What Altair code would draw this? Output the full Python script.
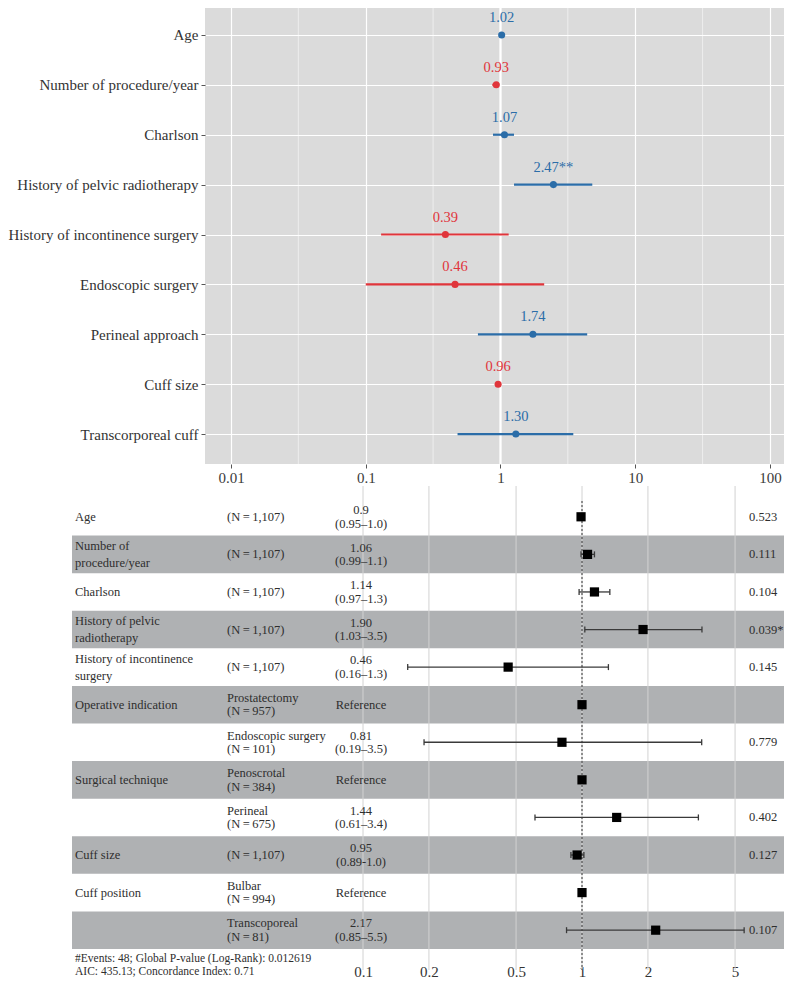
import altair as alt
import pandas as pd

FONT = "Liberation Serif"
RED = "#e0353b"
BLUE = "#2b6da8"
ROWGRAY = "#afb1b3"
PANELBG = "#dbdbdb"

# ---------------- top panel data ----------------
top_vars = ["Age", "Number of procedure/year", "Charlson",
            "History of pelvic radiotherapy", "History of incontinence surgery",
            "Endoscopic surgery", "Perineal approach", "Cuff size",
            "Transcorporeal cuff"]
top_hr = [1.02, 0.93, 1.07, 2.47, 0.39, 0.46, 1.74, 0.96, 1.30]
top_lo = [1.00, 0.87, 0.88, 1.26, 0.13, 0.10, 0.68, 0.92, 0.48]
top_hi = [1.04, 0.98, 1.26, 4.80, 1.15, 2.11, 4.40, 1.00, 3.47]
top_label = ["1.02", "0.93", "1.07", "2.47**", "0.39", "0.46", "1.74", "0.96", "1.30"]
top_major = [0.01, 0.1, 1, 10, 100]
top_minor = [0.0316, 0.316, 3.16, 31.6]

# ---------------- bottom panel data ----------------
bot_var = ["Age", "Number of\nprocedure/year", "Charlson",
           "History of pelvic\nradiotherapy", "History of incontinence\nsurgery",
           "Operative indication", "", "Surgical technique", "", "Cuff size",
           "Cuff position", ""]
bot_group = ["(N\u2009=\u20091,107)", "(N\u2009=\u20091,107)", "(N\u2009=\u20091,107)",
             "(N\u2009=\u20091,107)", "(N\u2009=\u20091,107)",
             "Prostatectomy\n(N\u2009=\u2009957)", "Endoscopic surgery\n(N\u2009=\u2009101)",
             "Penoscrotal\n(N\u2009=\u2009384)", "Perineal\n(N\u2009=\u2009675)",
             "(N\u2009=\u20091,107)", "Bulbar\n(N\u2009=\u2009994)",
             "Transcoporeal\n(N\u2009=\u200981)"]
bot_hrtext = ["0.9\n(0.95\u20131.0)", "1.06\n(0.99\u20131.1)", "1.14\n(0.97\u20131.3)",
              "1.90\n(1.03\u20133.5)", "0.46\n(0.16\u20131.3)", "Reference",
              "0.81\n(0.19\u20133.5)", "Reference", "1.44\n(0.61\u20133.4)",
              "0.95\n(0.89-1.0)", "Reference", "2.17\n(0.85\u20135.5)"]
bot_p = ["0.523", "0.111", "0.104", "0.039*", "0.145", "", "0.779", "", "0.402",
         "0.127", "", "0.107"]
bot_hr = [0.99, 1.06, 1.14, 1.90, 0.46, 1.0, 0.81, 1.0, 1.44, 0.95, 1.0, 2.17]
bot_lo = [0.97, 0.99, 0.97, 1.03, 0.16, None, 0.19, None, 0.61, 0.89, None, 0.85]
bot_hi = [1.00, 1.14, 1.34, 3.53, 1.32, None, 3.52, None, 3.40, 1.02, None, 5.50]
bot_ticks = [0.1, 0.2, 0.5, 1, 2, 5]
footnote = "#Events: 48; Global P-value (Log-Rank): 0.012619\nAIC: 435.13; Concordance Index: 0.71"

# ---------------- top chart ----------------
top_df = pd.DataFrame({"var": top_vars, "hr": top_hr, "lo": top_lo,
                       "hi": top_hi, "label": top_label})
top_df["dir"] = ["lower" if v < 1 else "higher" for v in top_hr]

TW = 579
TH = 459
xs_top = alt.Scale(type="log", domain=[10 ** -2.193, 10 ** 2.104], nice=False)
ys_top = alt.Scale(type="point", padding=0.6)
col = alt.Color("dir:N", scale=alt.Scale(domain=["lower", "higher"], range=[RED, BLUE]),
                legend=None)

x_top_axis = alt.Axis(values=top_major, format="~g", title=None, grid=True,
                      gridColor="white", gridWidth=1.2, domain=False,
                      tickColor="#555555", tickSize=4, labelFont=FONT,
                      labelFontSize=15, labelColor="#3a3a3a", labelPadding=2)
y_top_axis = alt.Axis(title=None, labelFont=FONT, labelFontSize=15,
                      labelColor="#333333", tickColor="#555555", tickSize=4,
                      labelPadding=3, domain=False, grid=True, gridColor="white",
                      gridWidth=1.2, labelLimit=400)

minor = alt.Chart(pd.DataFrame({"v": top_minor})).mark_rule(
    color="white", strokeWidth=0.7, opacity=0.75
).encode(x=alt.X("v:Q", scale=xs_top, axis=x_top_axis))

one_line = alt.Chart(pd.DataFrame({"v": [1]})).mark_rule(
    color="white", strokeWidth=2.2
).encode(x=alt.X("v:Q", scale=xs_top))

base_top = alt.Chart(top_df)
y_enc = alt.Y("var:N", sort=top_vars, scale=ys_top, axis=y_top_axis)
bars = base_top.mark_rule(strokeWidth=2.2).encode(
    x=alt.X("lo:Q", scale=xs_top), x2="hi:Q", y=y_enc, color=col)
pts = base_top.mark_circle(size=50, opacity=1).encode(
    x=alt.X("hr:Q", scale=xs_top), y=y_enc, color=col)
lbls = base_top.mark_text(dy=-17, font=FONT, fontSize=14.5).encode(
    x=alt.X("hr:Q", scale=xs_top), y=y_enc, text="label:N", color=col)

top = alt.layer(minor, one_line, bars, pts, lbls).properties(
    width=TW, height=TH,
    view=alt.ViewBackground(fill=PANELBG, strokeWidth=0))

# ---------------- bottom chart ----------------
# bottom chart origin is aligned with the top plot origin
n = len(bot_var)
bot_df = pd.DataFrame({"row": list(range(n)), "var": bot_var, "grp": bot_group,
                       "hrtext": bot_hrtext, "p": bot_p, "hr": bot_hr,
                       "lo": bot_lo, "hi": bot_hi})
bot_df["c"] = bot_df["row"] + 0.5
bot_df["top"] = bot_df["row"]
bot_df["bot"] = bot_df["row"] + 1
bot_df["shade"] = bot_df["row"] % 2 == 1

BW = 579
BH = 472
ROW_H = 37.58
ROW0 = 12
ONE_X = 377      # pixel of HR = 1 inside bottom chart
DEC = 219        # pixels per decade
xs_bot = alt.Scale(type="log", domain=[10 ** (-ONE_X / DEC), 10 ** ((BW - ONE_X) / DEC)],
                   nice=False)
ys_bot = alt.Scale(domain=[-ROW0 / ROW_H, (BH - ROW0) / ROW_H], reverse=True,
                   nice=False, zero=False)
x_bot_axis = alt.Axis(values=bot_ticks, format="~g", title=None, grid=False,
                      domain=False, ticks=False, labelFont=FONT, labelFontSize=15,
                      labelColor="#333333", labelPadding=6)

LEFT = -133
base_b = alt.Chart(bot_df)
rects = base_b.transform_filter("datum.shade").mark_rect(color=ROWGRAY).encode(
    x=alt.value(LEFT), x2=alt.value(BW),
    y=alt.Y("top:Q", scale=ys_bot, axis=None), y2="bot:Q")
grid_b = alt.Chart(pd.DataFrame({"v": bot_ticks})).mark_rule(
    color="#d2d2d2", strokeWidth=1
).encode(x=alt.X("v:Q", scale=xs_bot, axis=x_bot_axis),
         y=alt.value(0), y2=alt.value(BH + 12))
ref_line = alt.Chart(pd.DataFrame({"v": [1]})).mark_rule(
    color="#333333", strokeWidth=1, strokeDash=[2, 2]
).encode(x=alt.X("v:Q", scale=xs_bot), y=alt.value(15), y2=alt.value(BH + 12))

ci = base_b.transform_filter("isValid(datum.lo)")
err = ci.mark_rule(color="#3a3a3a", strokeWidth=1.3).encode(
    x=alt.X("lo:Q", scale=xs_bot), x2="hi:Q", y=alt.Y("c:Q", scale=ys_bot))
cap_lo = ci.mark_tick(orient="vertical", size=6, thickness=1.3, color="#3a3a3a",
                      opacity=1).encode(
    x=alt.X("lo:Q", scale=xs_bot), y=alt.Y("c:Q", scale=ys_bot))
cap_hi = ci.mark_tick(orient="vertical", size=6, thickness=1.3, color="#3a3a3a",
                      opacity=1).encode(
    x=alt.X("hi:Q", scale=xs_bot), y=alt.Y("c:Q", scale=ys_bot))
sq = base_b.mark_square(size=85, color="black", opacity=1).encode(
    x=alt.X("hr:Q", scale=xs_bot), y=alt.Y("c:Q", scale=ys_bot))


def text_col(field, xpx, align, line_h):
    kw = dict(font=FONT, fontSize=12.5, color="#2e2e2e", baseline="middle",
              lineBreak="\n", lineHeight=line_h, align=align)
    one = base_b.transform_filter(f"indexof(datum.{field}, '\\n') < 0").mark_text(
        **kw).encode(x=alt.value(xpx), y=alt.Y("c:Q", scale=ys_bot),
                     text=f"{field}:N")
    two = base_b.transform_filter(f"indexof(datum.{field}, '\\n') >= 0").mark_text(
        dy=-line_h / 2, **kw).encode(x=alt.value(xpx), y=alt.Y("c:Q", scale=ys_bot),
                                     text=f"{field}:N")
    return [one, two]


texts = (text_col("var", LEFT + 3, "left", 17)
         + text_col("grp", 22, "left", 13.5)
         + text_col("hrtext", 156, "center", 13.5)
         + text_col("p", 544, "left", 13.5))

t_foot = alt.Chart(pd.DataFrame({"t": [footnote]})).mark_text(
    align="left", baseline="middle", lineBreak="\n", lineHeight=12.5, font=FONT,
    fontSize=11.5, color="#2e2e2e"
).encode(x=alt.value(LEFT + 3), y=alt.value(BH + 1), text="t:N")

bottom = alt.layer(rects, grid_b, ref_line, err, cap_lo, cap_hi, sq,
                   *texts, t_foot).properties(width=BW, height=BH)

chart = alt.vconcat(top, bottom, spacing=0).properties(
    padding={"top": -5, "left": -1, "right": 0, "bottom": 0}
).configure_view(strokeWidth=0)

chart.save("out.html", embed_options={"renderer": "svg", "actions": False})
